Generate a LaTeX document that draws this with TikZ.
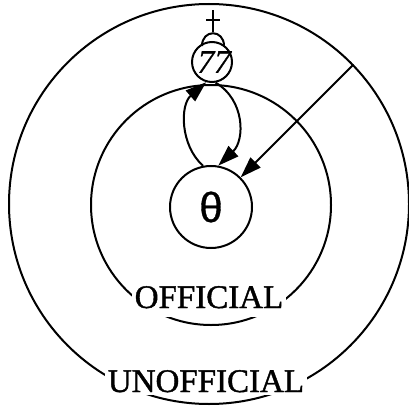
\documentclass[tikz,border=0pt]{standalone}
\usepackage{fontspec}
\setmainfont{Liberation Serif}
\newfontfamily\lblfont{Liberation Serif}[FakeBold=1.2]
\newfontfamily\numfont{Liberation Serif}[FakeBold=1.0,FakeSlant=0.2]
\newfontfamily\symfont{Liberation Sans}[FakeBold=0.8]
\usetikzlibrary{arrows.meta}
\tikzset{
  ln/.style={line width=2pt},
  ring/.style={ln, draw, circle, inner sep=0pt},
  lbl/.style={fill=white, inner xsep=3pt, inner ysep=2pt, anchor=base, font=\lblfont\fontsize{33}{36}\selectfont},
  arr/.style={ln, -{Triangle[length=21pt,width=14pt]}}
}
\begin{document}
\begin{tikzpicture}[x=1pt,y=-1pt]
\useasboundingbox (0,0) rectangle (409,409);
\node[ring, minimum size=400pt] (outer) at (209,204) {};
\node[ring, minimum size=240pt] (inner) at (211,205) {};
\node[lbl, text depth=7pt] (off) at (209,308) {OFFICIAL};
\node[lbl, text depth=1pt] (unoff) at (206,392) {UNOFFICIAL};
\node[ring, minimum size=82pt, font=\symfont\fontsize{42}{44}\selectfont] (theta) at (211,207) {θ};
\node[ring, minimum size=40pt, font=\numfont\fontsize{33}{34}\selectfont] (n77) at (212,62) {77};
% dome and cross on top of 77
\draw[ln] (202,46) .. controls (202,29) and (224,29) .. (224,46);
\draw[ln] (213,32) -- (213,10);
\draw[ln] (206,20) -- (220,20);
% connectors
\draw[arr] (theta.101) .. controls (180,145) and (180,105) .. (n77.254);
\draw[arr] (n77.280) .. controls (245,100) and (245,140) .. (theta.80);
\draw[arr] (outer.44) -- (theta);
\end{tikzpicture}
\end{document}
